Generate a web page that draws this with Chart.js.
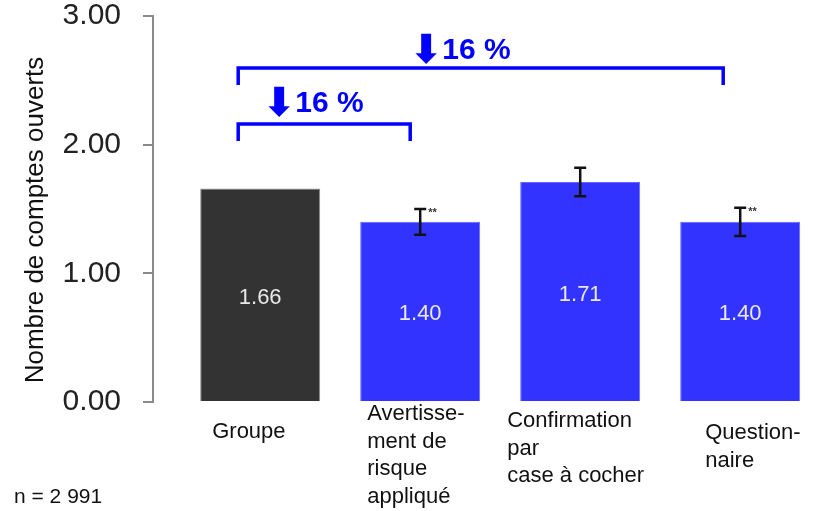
<!DOCTYPE html>
<html>
<head>
<meta charset="utf-8">
<script src="https://cdn.jsdelivr.net/npm/chart.js@4.4.1/dist/chart.umd.min.js"></script>
<style>
  html, body { margin: 0; padding: 0; background: #fff; }
  #wrap { width: 815px; height: 511px; position: relative; }
</style>
</head>
<body>
<div id="wrap"><canvas id="chart"></canvas></div>
<script>
// data
const categories = [
    ['Groupe'],
    ['Avertisse-', 'ment de', 'risque', 'appliqué'],
    ['Confirmation', 'par', 'case à cocher'],
    ['Question-', 'naire']
];
const values = [1.66, 1.40, 1.71, 1.40];
const errors = [null, 0.10, 0.11, 0.11];
const stars = ['', '**', '', '**'];
const yTicks = [0, 1, 2, 3];
const comparisons = [
    { from: 0, to: 1, label: '16 %' },
    { from: 0, to: 3, label: '16 %' }
];
const yTitle = 'Nombre de comptes ouverts';
const sampleNote = 'n = 2 991';

// layout / style only
const barColors = ['#333333', '#3333ff', '#3333ff', '#3333ff'];
const barBorders = ['#8a8a8a', '#6666ff', '#6666ff', '#6666ff'];
const labelStyle = [
    { dx: -48, y: 432 },
    { dx: -53, y: 414 },
    { dx: -73, y: 421 },
    { dx: -35, y: 433 }
];
const bracketStyle = [
    { level: 2.16, left: -22, right: -10, textDx: 30, textUp: 12 },
    { level: 2.595, left: -22, right: -17, textDx: 177, textUp: 9 }
];
const FONT = '"Liberation Sans", Arial, sans-serif';

const overlay = {
    id: 'overlay',
    afterDatasetsDraw(chart) {
        const ctx = chart.ctx;
        const xs = chart.scales.x;
        const ys = chart.scales.y;
        const meta = chart.getDatasetMeta(0);
        ctx.save();

        // values inside the bars
        ctx.font = '22px ' + FONT;
        ctx.fillStyle = '#e8e8e8';
        ctx.textAlign = 'center';
        ctx.textBaseline = 'middle';
        meta.data.forEach((bar, i) => {
            ctx.fillText(values[i].toFixed(2), bar.x, (bar.y + bar.base) / 2 + 3);
        });

        // error bars + significance stars
        ctx.strokeStyle = '#111';
        ctx.lineWidth = 2.5;
        meta.data.forEach((bar, i) => {
            if (errors[i] == null) return;
            const top = ys.getPixelForValue(values[i] + errors[i]);
            const bot = ys.getPixelForValue(values[i] - errors[i]);
            ctx.beginPath();
            ctx.moveTo(bar.x, top); ctx.lineTo(bar.x, bot);
            ctx.moveTo(bar.x - 6, top); ctx.lineTo(bar.x + 6, top);
            ctx.moveTo(bar.x - 6, bot); ctx.lineTo(bar.x + 6, bot);
            ctx.stroke();
            if (stars[i]) {
                ctx.font = 'bold 11px ' + FONT;
                ctx.fillStyle = '#333';
                ctx.textAlign = 'left';
                ctx.fillText(stars[i], bar.x + 8, top + 4);
            }
        });

        // comparison brackets
        ctx.strokeStyle = '#0000ff';
        ctx.fillStyle = '#0000ff';
        ctx.lineWidth = 3.5;
        comparisons.forEach((c, k) => {
            const st = bracketStyle[k];
            const x1 = xs.getPixelForValue(c.from + 1) + st.left;
            const x2 = xs.getPixelForValue(c.to + 1) + st.right;
            const yy = ys.getPixelForValue(st.level);
            ctx.beginPath();
            ctx.moveTo(x1, yy + 17); ctx.lineTo(x1, yy);
            ctx.lineTo(x2, yy); ctx.lineTo(x2, yy + 17);
            ctx.stroke();
            ctx.textAlign = 'left';
            ctx.textBaseline = 'alphabetic';
            ctx.font = 'bold 40px "DejaVu Sans", sans-serif';
            ctx.fillText('\u2B07', x1 + st.textDx - 6, yy - st.textUp + 4);
            ctx.font = 'bold 30px ' + FONT;
            ctx.fillText(c.label, x1 + st.textDx + 27, yy - st.textUp);
        });

        // category labels under the bars
        ctx.font = '22px ' + FONT;
        ctx.fillStyle = '#111';
        ctx.textAlign = 'left';
        ctx.textBaseline = 'middle';
        categories.forEach((lines, i) => {
            const px = xs.getPixelForValue(i + 1) + labelStyle[i].dx;
            lines.forEach((t, j) => ctx.fillText(t, px, labelStyle[i].y + j * 27.5));
        });

        // sample size
        ctx.font = '21px ' + FONT;
        ctx.fillText(sampleNote, 14, 497);

        // y axis title
        ctx.translate(36, 220);
        ctx.rotate(-Math.PI / 2);
        ctx.textAlign = 'center';
        ctx.font = '26px ' + FONT;
        ctx.fillText(yTitle, 0, 0);
        ctx.restore();
    }
};

new Chart(document.getElementById('chart'), {
    type: 'bar',
    data: {
        datasets: [{
            data: values.map((v, i) => ({ x: i + 1, y: v })),
            backgroundColor: barColors,
            borderColor: barBorders,
            borderWidth: 1,
            categoryPercentage: 1,
            barPercentage: 0.75
        }]
    },
    options: {
        responsive: true,
        maintainAspectRatio: false,
        animation: false,
        layout: { padding: { top: 16, right: 0, left: 0, bottom: 0 } },
        plugins: { legend: { display: false }, tooltip: { enabled: false } },
        scales: {
            x: {
                type: 'linear',
                offset: false,
                min: 0.33,
                max: 0.33 + 662 / 160,
                afterBuildTicks: (s) => { s.ticks = categories.map((c, i) => ({ value: i + 1 })); },
                afterFit: (s) => { s.height = 109; s.paddingLeft = 0; s.paddingRight = 0; },
                ticks: { display: false },
                grid: { display: false },
                border: { display: false }
            },
            y: {
                min: 0,
                max: 3,
                afterBuildTicks: (s) => { s.ticks = yTicks.map(v => ({ value: v })); },
                afterFit: (s) => { s.width = 153; s.paddingTop = 0; s.paddingBottom = 0; },
                ticks: {
                    padding: 22,
                    color: '#222',
                    font: { family: FONT, size: 30 },
                    callback: (v) => Number(v).toFixed(2)
                },
                grid: { drawOnChartArea: false, tickLength: 10, color: '#8a8a8a', lineWidth: 2 },
                border: { display: true, color: '#8a8a8a', width: 2 },
                title: { display: false }
            }
        }
    },
    plugins: [overlay]
});
</script>
</body>
</html>
